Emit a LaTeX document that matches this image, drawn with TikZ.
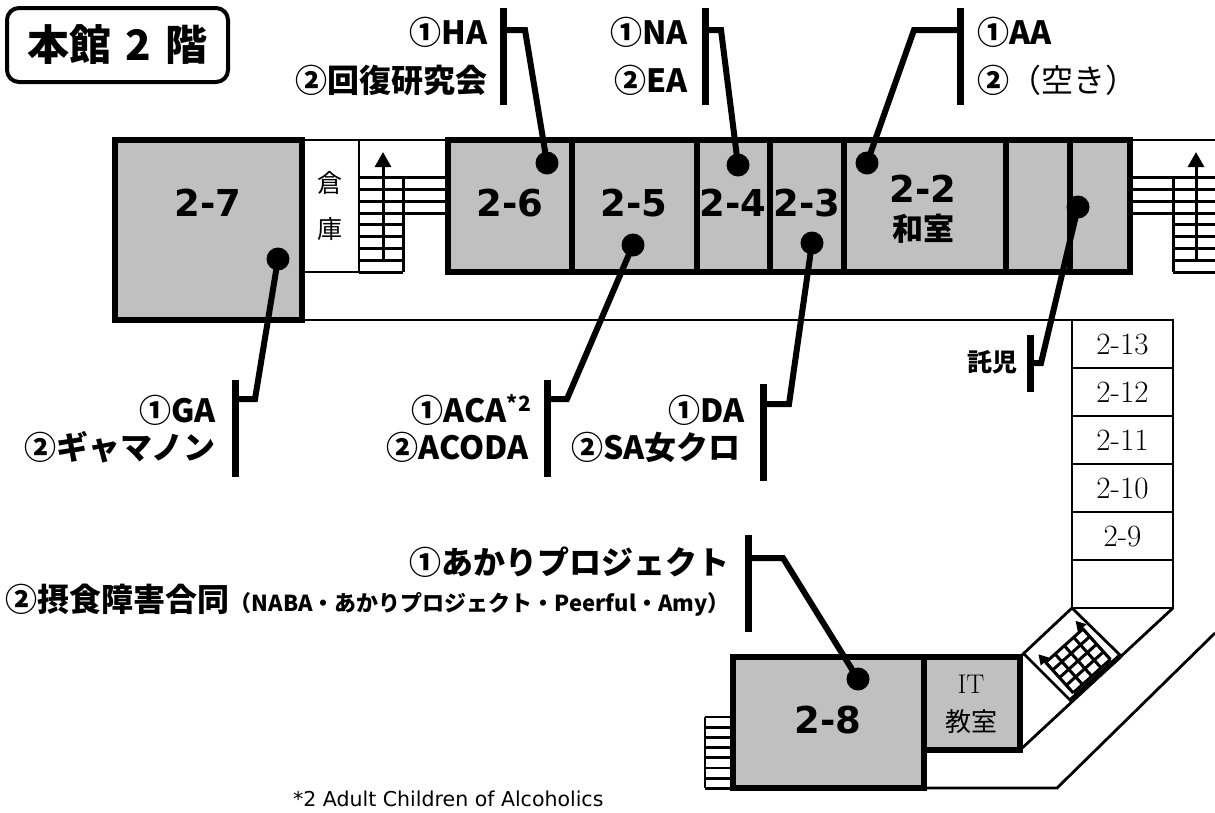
\documentclass[tikz,border=0pt]{standalone}
\usepackage{fontspec}
\newfontfamily\jp{Noto Sans CJK JP}
\newfontfamily\dv{DejaVu Sans}
\usetikzlibrary{arrows.meta}
\definecolor{roomgray}{RGB}{192,192,192}
\begin{document}
\begin{tikzpicture}[x=1pt,y=-1pt,
  room/.style={draw=black,line width=6pt,fill=roomgray},
  wall/.style={line width=6pt},
  thinl/.style={line width=2.8pt},
  tread/.style={line width=3pt},
  conn/.style={line width=6pt},
  bar/.style={line width=7pt},
  dot/.style={circle,fill=black,minimum size=23pt,inner sep=0pt},
  lab/.style={font=\jp\bfseries\fontsize{32}{32}\selectfont,inner sep=0pt},
  rlab/.style={font=\dv\bfseries\fontsize{37}{37}\selectfont,inner sep=0pt},
  cell/.style={font=\fontsize{31}{31}\selectfont,inner sep=0pt},
  mincho/.style={font=\jp\fontsize{25}{25}\selectfont,inner sep=0pt},
  uparrow/.style={line width=3pt,-{Triangle[width=16pt,length=15pt]}},
  smallarrow/.style={line width=2.6pt,-{Triangle[width=11pt,length=10pt]}},
]
\useasboundingbox (0,0) rectangle (1215,812);

% ---------- title ----------
\node[draw,line width=4pt,rounded corners=12pt,minimum width=221pt,minimum height=74pt,
      font=\jp\bfseries\fontsize{42}{42}\selectfont,inner sep=0pt] (title) at (117.5,45) {本館\hspace{14pt}2\hspace{14pt}階};

% ---------- thin outlines ----------
\draw[thinl] (302,140) -- (448,140);
\draw[thinl] (1130,140) -- (1215,140);
\draw[thinl] (302,272) -- (403,272);
\draw[thinl] (359,140) -- (359,272);
\draw[thinl] (302,320) -- (1072,320);
\draw[thinl] (1173,272) -- (1215,272);
% right column of small rooms
\draw[thinl] (1072,320) rectangle (1173,608);
\foreach \yy in {368,416,464,512,560} \draw[thinl] (1072,\yy) -- (1173,\yy);
% diagonals
\draw[thinl] (1072,608) -- (1022,655);
\draw[thinl] (1173,608) -- (1020,750);
\draw[thinl] (1215,633) -- (1057,788) -- (924,788);
\draw[thinl] (1023,653) -- (1072,702);
\draw[thinl] (1072,608) -- (1122,657);

% ---------- rooms ----------
\draw[room] (115,140) rectangle (302,320);
\draw[room] (448,140) rectangle (1130,272);
\foreach \xx in {572,697,770,844,1006,1070} \draw[wall] (\xx,140) -- (\xx,272);
\draw[room] (733,657) rectangle (924,788);
\draw[room] (924,657) rectangle (1020,750);

% ---------- left stair ----------
\foreach \yy in {177,189,201,213,224.5,236.5,248.5,260.5,272} \draw[tread] (359,\yy) -- (403,\yy);
\foreach \yy in {177,189,201,213} \draw[tread] (403,\yy) -- (448,\yy);
\draw[tread] (403,177) -- (403,272);
\draw[uparrow] (383,262) -- (383,152);

% ---------- right stair ----------
\foreach \yy in {177,189,201,213} \draw[tread] (1130,\yy) -- (1173,\yy);
\foreach \yy in {177,189,201,213,224.5,236.5,248.5,260.5,272} \draw[tread] (1173,\yy) -- (1215,\yy);
\draw[tread] (1173,177) -- (1173,272);
\draw[uparrow] (1196,262) -- (1196,152);

% ---------- steps left of 2-8 ----------
\foreach \yy in {717,727.2,737.4,747.6,757.8,768,778.2,788.4} \draw[thinl] (705,\yy) -- (733,\yy);
\draw[thinl] (705,717) -- (705,788.4);

% ---------- diagonal stair ----------
\begin{scope}[shift={(1072,702)}]
\begin{scope}[x={(0.743pt,0.669pt)},y={(-0.669pt,0.743pt)}]
  \draw[line width=5pt] (0,2) -- (67,2);
  \foreach \ss in {7,19.5,32,44.5,57} \draw[tread] (\ss,6) -- (\ss,47);
  \foreach \tt in {6,16.25,26.5,36.75,47} \draw[tread] (7,\tt) -- (57,\tt);
  \draw[smallarrow] (7,6) -- (7,58);
  \draw[smallarrow] (57,6) -- (57,58);
\end{scope}
\end{scope}

% ---------- room labels ----------
\node[rlab] (r27) at (208,203) {2-7};
\node[rlab] (r26) at (510,203) {2-6};
\node[rlab] (r25) at (634,203) {2-5};
\node[rlab] (r24) at (733,203) {2-4};
\node[rlab] (r23) at (807,203) {2-3};
\node[rlab] (r22) at (923,189) {2-2};
\node[font=\jp\bfseries\fontsize{31}{31}\selectfont,inner sep=0pt] (wa) at (923,229) {和室};
\node[rlab] (r28) at (828,720) {2-8};
\node[mincho] (kura) at (330,183) {倉};
\node[mincho] (ko) at (330,229) {庫};
\node[font=\fontsize{27}{27}\selectfont,inner sep=0pt] (it) at (971,684) {IT};
\node[font=\jp\fontsize{26}{26}\selectfont,inner sep=0pt] (kyo) at (971,722) {教室};
\node[cell] (c13) at (1122.5,344) {2-13};
\node[cell] (c12) at (1122.5,392) {2-12};
\node[cell] (c11) at (1122.5,440) {2-11};
\node[cell] (c10) at (1122.5,488) {2-10};
\node[cell] (c9)  at (1122.5,536) {2-9};

% ---------- connectors ----------
\coordinate (pHA) at (547,163); \coordinate (kHA) at (525,30); \coordinate (sHA) at (503,30);
\coordinate (pNA) at (738,165); \coordinate (kNA) at (721,30); \coordinate (sNA) at (705,30);
\coordinate (pAA) at (867,163); \coordinate (kAA) at (914,30); \coordinate (sAA) at (960,30);
\coordinate (pGA) at (278,259); \coordinate (kGA) at (255,399); \coordinate (sGA) at (235,399);
\coordinate (pAC) at (633,245); \coordinate (kAC) at (567,399); \coordinate (sAC) at (547,399);
\coordinate (pDA) at (812,243); \coordinate (kDA) at (789,404); \coordinate (sDA) at (763,404);
\coordinate (pTJ) at (1078,207); \coordinate (kTJ) at (1041,363); \coordinate (sTJ) at (1030,363);
\coordinate (pAK) at (858,679); \coordinate (kAK) at (783,558); \coordinate (sAK) at (748,558);
\foreach \n in {HA,NA,AA,GA,AC,DA,TJ,AK} \draw[conn] (p\n) -- (k\n) -- (s\n);
\foreach \n in {HA,NA,AA,GA,AC,DA,TJ,AK} \node[dot] (d\n) at (p\n) {};

% ---------- bars ----------
\draw[bar] (503,8) -- (503,105);
\draw[bar] (705,8) -- (705,105);
\draw[bar] (960,8) -- (960,105);
\draw[bar] (235,380) -- (235,477);
\draw[bar] (547,380) -- (547,477);
\draw[bar] (763,384) -- (763,481);
\draw[bar] (1030,335) -- (1030,392);
\draw[bar] (748,535) -- (748,632);

% ---------- labels ----------
\node[lab,anchor=east] (lHA1) at (488,32) {①HA};
\node[lab,anchor=east] (lHA2) at (488,80) {②回復研究会};
\node[lab,anchor=east] (lNA1) at (688,32) {①NA};
\node[lab,anchor=east] (lNA2) at (688,80) {②EA};
\node[lab,anchor=west] (lAA1) at (977,32) {①AA};
\node[lab,anchor=west] (lAA2) at (977,80) {②{\mdseries （空き）}};
\node[lab,anchor=east] (lGA1) at (216,410) {①GA};
\node[lab,anchor=east] (lGA2) at (216,447) {②ギャマノン};
\node[lab,anchor=east] (lAC1) at (531,410) {①ACA\raisebox{11pt}{\fontsize{21}{21}\selectfont *2}};
\node[lab,anchor=east] (lAC2) at (529,447) {②ACODA};
\node[lab,anchor=east] (lDA1) at (745,410) {①DA};
\node[lab,anchor=east] (lDA2) at (741,447) {②SA女クロ};
\node[font=\jp\bfseries\fontsize{25}{25}\selectfont,inner sep=0pt,anchor=east] (lTJ) at (1018,362) {託児};
\node[lab,anchor=east] (lAK1) at (730,562) {①あかりプロジェクト};
\node[lab,anchor=east] (lAK2) at (730,600) {②摂食障害合同{\fontsize{22}{22}\selectfont （NABA・あかりプロジェクト・Peerful・Amy）}};

% ---------- footnote ----------
\node[font=\dv\fontsize{20.5}{20.5}\selectfont,inner sep=0pt,anchor=west] (fn) at (293,799) {*2 Adult Children of Alcoholics};
\end{tikzpicture}
\end{document}
